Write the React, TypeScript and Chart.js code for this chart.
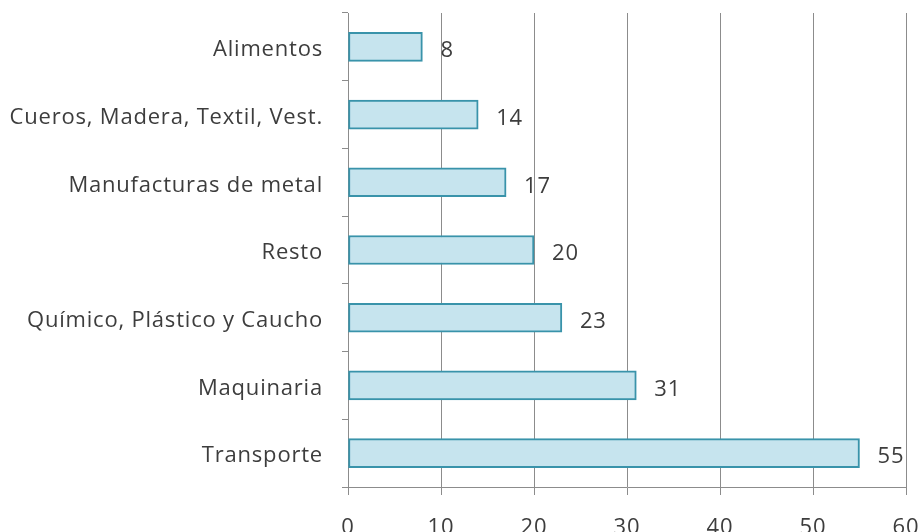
import React, { useEffect, useRef } from "react";
import { Chart, registerables } from "chart.js";

Chart.register(...registerables);

const categories = [
  "Alimentos",
  "Cueros, Madera, Textil, Vest.",
  "Manufacturas de metal",
  "Resto",
  "Químico, Plástico y Caucho",
  "Maquinaria",
  "Transporte",
];
const values = [8, 14, 17, 20, 23, 31, 55];
const xMin = 0;
const xMax = 60;
const xStep = 10;

const FONT = "'Open Sans', 'DejaVu Sans', sans-serif";
const FONT_SIZE = 22;
const TEXT = "#3d3d3d";
const GRID = "#8c8c8c";

const spacing = {
  id: "spacing",
  beforeDraw(chart: any) {
    (chart.ctx as any).letterSpacing = "0.8px";
  },
};

const valueLabels = {
  id: "valueLabels",
  afterDatasetsDraw(chart: any) {
    const ctx = chart.ctx;
    const meta = chart.getDatasetMeta(0);
    ctx.save();
    ctx.font = `${FONT_SIZE}px ${FONT}`;
    ctx.fillStyle = TEXT;
    ctx.textAlign = "left";
    ctx.textBaseline = "middle";
    meta.data.forEach((bar: any, i: number) => {
      ctx.fillText(String(values[i]), bar.x + 18, bar.y + 4);
    });
    ctx.restore();
  },
};

export default function App() {
  const ref = useRef<HTMLCanvasElement | null>(null);
  useEffect(() => {
    if (!ref.current) return;
    const chart = new Chart(ref.current, {
      type: "bar",
      data: {
        labels: categories,
        datasets: [
          {
            data: values,
            backgroundColor: "#c6e4ee",
            borderColor: "#3993aa",
            borderWidth: 2,
            borderSkipped: false,
            barThickness: 29,
          },
        ],
      },
      options: {
        indexAxis: "y",
        animation: false,
        responsive: false,
        maintainAspectRatio: false,
        layout: { padding: { top: 13, right: 16, left: 0, bottom: 0 } },
        plugins: {
          legend: { display: false },
          tooltip: { enabled: false },
        },
        scales: {
          x: {
            min: xMin,
            max: xMax,
            ticks: {
              stepSize: xStep,
              color: TEXT,
              font: { family: FONT, size: FONT_SIZE },
              padding: 20,
              maxRotation: 0,
            },
            grid: {
              color: GRID,
              lineWidth: 1,
              tickLength: 8,
              drawTicks: true,
            },
            border: { display: true, color: GRID },
            afterFit(scale: any) {
              scale.height = 45;
              scale.paddingLeft = 0;
              scale.paddingRight = 0;
            },
          },
          y: {
            offset: true,
            ticks: {
              color: TEXT,
              font: { family: FONT, size: FONT_SIZE },
              padding: 19,
              labelOffset: 3,
            },
            grid: {
              offset: true,
              drawOnChartArea: false,
              drawTicks: true,
              tickLength: 6,
              color: GRID,
            },
            border: { display: true, color: GRID },
            afterFit(scale: any) {
              scale.width = 348;
              scale.paddingTop = 0;
              scale.paddingBottom = 0;
            },
          },
        },
      },
      plugins: [spacing, valueLabels],
    });
    return () => chart.destroy();
  }, []);
  return (
    <div style={{ position: "fixed", left: 0, top: 0, width: 922, height: 532, background: "#fff" }}>
      <canvas ref={ref} width={922} height={532} />
    </div>
  );
}
